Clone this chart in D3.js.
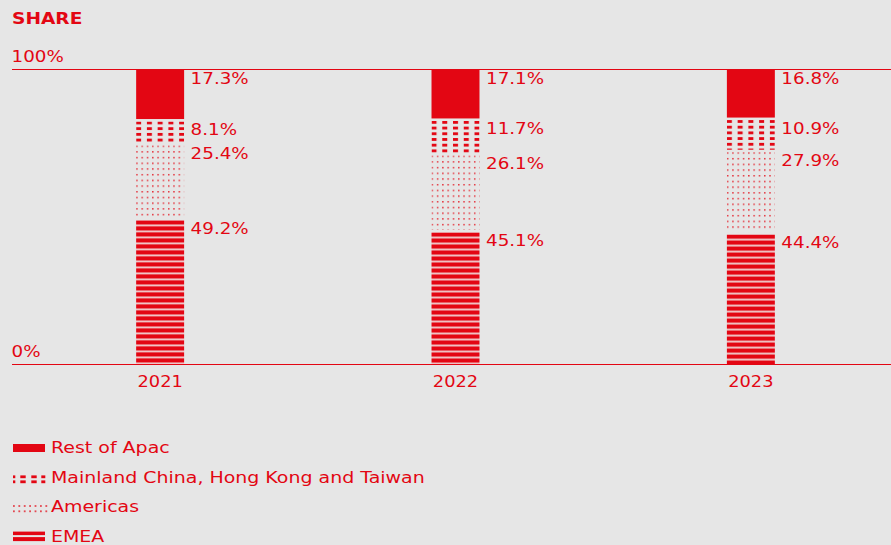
<!DOCTYPE html>
<html><head><meta charset="utf-8">
<script src="https://cdn.jsdelivr.net/npm/d3@7"></script>
<style>
html,body{margin:0;padding:0;background:#e6e6e6;}
svg{display:block;}
text{font-family:"DejaVu Sans",sans-serif;fill:#e30613;}
</style></head>
<body><svg id="c" width="891" height="545"></svg>
<script>
const years = ["2021", "2022", "2023"];
const seriesNames = ["Rest of Apac", "Mainland China, Hong Kong and Taiwan", "Americas", "EMEA"];
const restOfApac = [17.3, 17.1, 16.8];
const mainland = [8.1, 11.7, 10.9];
const americas = [25.4, 26.1, 27.9];
const emea = [49.2, 45.1, 44.4];
const yTicks = [0, 100];

const RED = "#e30613";
const svg = d3.select("#c");
const W = 891;
const x = d3.scaleBand().domain(years).range([18, 893]).paddingInner(0.8376).paddingOuter(0.4);
const y = d3.scaleLinear().domain([0, 100]).range([364, 69]);

// wide text helper (horizontally stretched to mimic the wide typeface)
function wtext(parent, tx, ty, str, size, sx, anchor, weight) {
  return parent.append("text")
    .attr("transform", `translate(${tx},${ty}) scale(${sx},1)`)
    .attr("x", 0).attr("y", 0)
    .attr("font-size", size)
    .attr("font-weight", weight || "normal")
    .attr("text-anchor", anchor || "start")
    .text(str);
}

const defs = svg.append("defs");
const pMain = defs.append("pattern").attr("id", "pMain").attr("patternUnits", "userSpaceOnUse")
  .attr("width", 10.75).attr("height", 5.7);
pMain.append("rect").attr("x", 0).attr("y", 0).attr("width", 5).attr("height", 2.8).attr("fill", RED);
const pAm = defs.append("pattern").attr("id", "pAm").attr("patternUnits", "userSpaceOnUse")
  .attr("width", 5.3).attr("height", 5.7);
pAm.append("rect").attr("x", 0).attr("y", 0).attr("width", 1.5).attr("height", 1.5).attr("fill", RED).attr("opacity", 0.8);
const pEm = defs.append("pattern").attr("id", "pEm").attr("patternUnits", "userSpaceOnUse")
  .attr("width", 10).attr("height", 6);
pEm.append("rect").attr("width", 10).attr("height", 6).attr("fill", "#f1d3d4");
pEm.append("rect").attr("x", 0).attr("y", 0).attr("width", 10).attr("height", 4.2).attr("fill", RED);

const fills = [RED, "url(#pMain)", "url(#pAm)", "url(#pEm)"];
const seriesVals = [restOfApac, mainland, americas, emea];

wtext(svg, 12, 24, "SHARE", 15.5, 1.2, "start", "bold");

yTicks.forEach(t => {
  svg.append("line").attr("x1", 12).attr("x2", W).attr("y1", y(t) + 0.5).attr("y2", y(t) + 0.5)
    .attr("stroke", RED).attr("stroke-width", 1);
  wtext(svg, 11.5, y(t) - 7.5, t + "%", 15.5, 1.18);
});

years.forEach((yr, i) => {
  let cum = 0;
  seriesVals.forEach((vals, s) => {
    const v = vals[i];
    const top = y(100 - cum);
    const bot = y(100 - cum - v);
    const t0 = top + (s === 0 ? 0 : 1.5);
    const b0 = s === 3 ? bot : bot - 1;
    const g = svg.append("g").attr("transform", `translate(${x(yr)},${t0})`);
    g.append("rect").attr("x", 0).attr("y", 0).attr("width", x.bandwidth())
      .attr("height", Math.max(0, b0 - t0)).attr("fill", fills[s]);
    wtext(svg, x(yr) + x.bandwidth() + 6.5, top + 15, v.toFixed(1) + "%", 16.5, 1.11);
    cum += v;
  });
  wtext(svg, x(yr) + x.bandwidth() / 2, 387, yr, 15.5, 1.15, "middle");
});

const lg = svg.append("g");
seriesNames.forEach((name, s) => {
  const cy = 447 + s * 29.7;
  const sw = lg.append("g").attr("transform", `translate(13,${cy})`);
  if (s === 0) {
    sw.append("rect").attr("x", 0).attr("y", -3).attr("width", 32).attr("height", 8).attr("fill", RED);
  } else if (s === 1) {
    const cols = [[0, 2.3], [7.3, 5.4], [18.3, 5.4], [28.3, 4]];
    cols.forEach(c => [-1.3, 3.7].forEach(dy => sw.append("rect").attr("x", c[0]).attr("y", dy)
      .attr("width", c[1]).attr("height", 2.8).attr("fill", RED)));
  } else if (s === 2) {
    d3.range(7).forEach(k => [-1.3, 4].forEach(dy => sw.append("rect").attr("x", k * 5.4).attr("y", dy)
      .attr("width", 1.8).attr("height", 1.8).attr("fill", RED).attr("opacity", 0.7)));
  } else {
    sw.append("rect").attr("x", 0).attr("y", -4.5).attr("width", 32).attr("height", 3.5).attr("fill", RED);
    sw.append("rect").attr("x", 0).attr("y", 1).attr("width", 32).attr("height", 4).attr("fill", RED);
  }
  wtext(lg, 51, cy + 6, name, 16.5, 1.15);
});
</script></body></html>
